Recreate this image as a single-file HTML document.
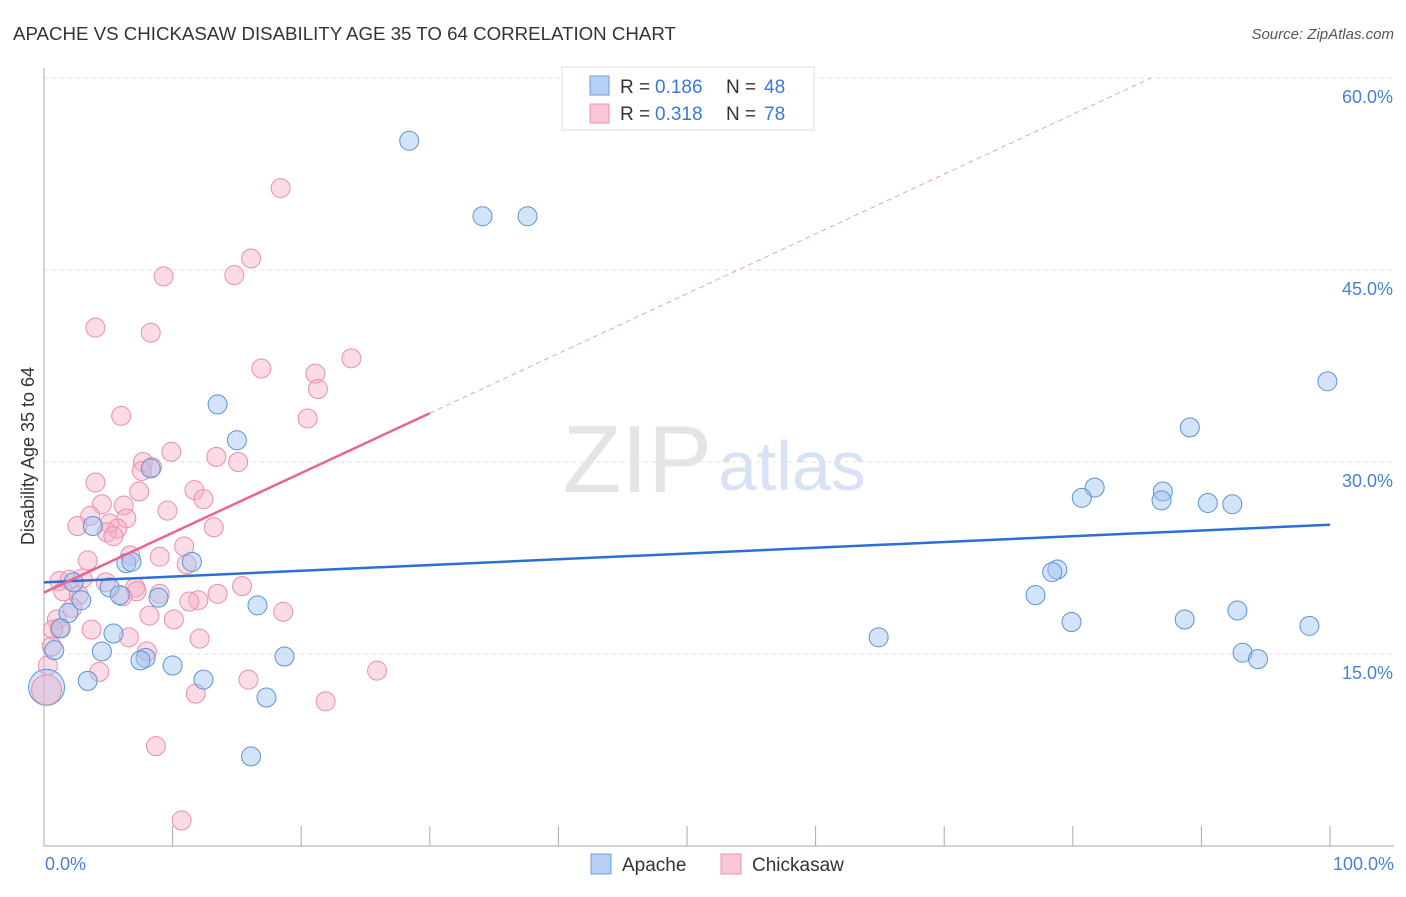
<!DOCTYPE html>
<html><head><meta charset="utf-8"><style>
body{margin:0;background:#fff;font-family:"Liberation Sans",sans-serif;}
svg text{font-family:"Liberation Sans",sans-serif;}
</style></head><body>
<svg width="1406" height="892" xmlns="http://www.w3.org/2000/svg">
<text x="13" y="40" font-size="18.7" fill="#333">APACHE VS CHICKASAW DISABILITY AGE 35 TO 64 CORRELATION CHART</text>
<text x="1394" y="39" font-size="15" fill="#555" font-style="italic" text-anchor="end">Source: ZipAtlas.com</text>
<g id="grid"></g>
<text x="712" y="492" font-size="96" fill="#e4e4e4" text-anchor="end" font-family="Liberation Serif">ZIP</text>
<text x="718" y="490" font-size="70" fill="#d7e3f4">atlas</text>
<line x1="44" y1="68" x2="44" y2="846" stroke="#aaa"/>
<line x1="44" y1="846" x2="1394" y2="846" stroke="#aaa"/>
<text transform="translate(34,456) rotate(-90)" font-size="18" fill="#333" text-anchor="middle">Disability Age 35 to 64</text>
<text x="45" y="870" font-size="18" fill="#4a7fd4">0.0%</text>
<text x="1394" y="870" font-size="18" fill="#4a7fd4" text-anchor="end">100.0%</text>
<g id="pts"></g>
<g id="trend"></g>
<g>
<rect x="562" y="67" width="252" height="63" fill="#fff" stroke="#ddd"/>
<rect x="590" y="76" width="19" height="19" fill="#b5d0f2" stroke="#6a9ee0"/>
<text x="620" y="93" font-size="19" fill="#333">R =</text>
<text x="655" y="93" font-size="19" fill="#3b78d8">0.186</text>
<text x="726" y="93" font-size="19" fill="#333">N =</text>
<text x="764" y="93" font-size="19" fill="#3b78d8">48</text>
<rect x="590" y="104" width="19" height="19" fill="#f8c6d5" stroke="#ea93ae"/>
<text x="620" y="120" font-size="19" fill="#333">R =</text>
<text x="655" y="120" font-size="19" fill="#3b78d8">0.318</text>
<text x="726" y="120" font-size="19" fill="#333">N =</text>
<text x="764" y="120" font-size="19" fill="#3b78d8">78</text>
</g>
<g>
<rect x="591" y="854" width="20" height="20" fill="#b5d0f2" stroke="#6a9ee0"/>
<text x="622" y="871" font-size="19" fill="#333">Apache</text>
<rect x="721" y="854" width="20" height="20" fill="#f8c6d5" stroke="#ea93ae"/>
<text x="752" y="871" font-size="19" fill="#333">Chickasaw</text>
</g>
</svg>
<script>
const yTicks=[15,30,45,60];
const yTickLabels=["15.0%","30.0%","45.0%","60.0%"];
const xTicks=[0,10,20,30,40,50,60,70,80,90,100];
const apacheX=[28.4,34.1,37.6,13.5,15.0,8.3,3.8,6.4,6.8,11.5,2.3,5.1,2.9,5.9,8.9,1.9,16.6,1.3,5.4,0.8,4.5,7.9,7.5,10.0,18.7,3.4,12.4,17.3,16.1,64.9,99.8,89.1,81.7,80.7,87.0,86.9,90.5,92.4,78.8,78.4,77.1,79.9,88.7,92.8,98.4,93.2,94.4];
const apacheY=[55.1,49.2,49.2,34.5,31.7,29.5,25.0,22.1,22.2,22.2,20.6,20.2,19.2,19.6,19.4,18.2,18.8,17.0,16.6,15.3,15.2,14.7,14.5,14.1,14.8,12.9,13.0,11.6,7.0,16.3,36.3,32.7,28.0,27.2,27.7,27.0,26.8,26.7,21.6,21.4,19.6,17.5,17.7,18.4,17.2,15.1,14.6];
const chickX=[18.4,16.1,14.8,9.3,4.0,8.3,23.9,16.9,21.1,21.3,6.0,20.5,9.9,13.4,15.1,7.7,8.4,7.6,4.0,11.7,7.4,12.4,4.5,6.2,3.6,6.4,9.6,2.6,5.1,5.7,4.9,5.4,13.2,10.9,3.4,6.7,9.0,11.1,15.4,1.2,2.0,3.0,4.8,7.1,7.2,1.5,2.7,6.1,9.0,13.5,12.0,11.3,2.2,8.2,10.1,18.6,1.0,1.2,0.7,3.7,6.6,12.1,8.0,0.6,0.3,4.3,25.9,15.9,11.8,21.9,8.7,10.7];
const chickY=[51.4,45.9,44.6,44.5,40.5,40.1,38.1,37.3,36.9,35.7,33.6,33.4,30.8,30.4,30.0,30.0,29.6,29.3,28.4,27.8,27.7,27.1,26.7,26.6,25.8,25.6,26.2,25.0,25.2,24.8,24.5,24.2,24.9,23.4,22.3,22.7,22.6,22.0,20.3,20.7,20.8,20.9,20.6,20.2,19.9,19.9,19.6,19.5,19.7,19.7,19.2,19.1,18.6,18.0,17.7,18.3,17.7,17.0,16.9,16.9,16.3,16.2,15.2,15.6,14.1,13.6,13.7,13.0,11.9,11.3,7.8,2.0];
const apacheTrend=[20.6,25.1];
const chickTrend=[19.8,0.467];
const X=v=>44+v*12.86, Y=v=>846-v*12.8;
const NS="http://www.w3.org/2000/svg";
function mk(t,a,p){const e=document.createElementNS(NS,t);for(const k in a)e.setAttribute(k,a[k]);p.appendChild(e);return e;}
const grid=document.getElementById('grid');
yTicks.forEach((t,i)=>{
 const l=mk('line',{x1:44,x2:1394,y1:Y(t),y2:Y(t),stroke:'#e2e2e2','stroke-dasharray':'4,4'},grid);
 
 
 const tx=mk('text',{x:1393,y:Y(t)+25,'font-size':18,fill:'#4a7fd4','text-anchor':'end'},grid);
 tx.textContent=yTickLabels[i];
 
 
});
xTicks.forEach(t=>{
 const l=mk('line',{x1:X(t),x2:X(t),y1:826,y2:846,stroke:'#aaa'},grid);
 
 
});
const pts=document.getElementById('pts');
chickX.forEach((x,i)=>{
 const c=mk('circle',{cx:X(x),cy:Y(chickY[i]),r:9.5,fill:'rgba(246,175,197,0.45)',stroke:'#eb8fab','stroke-width':1},pts);
 
 
});
apacheX.forEach((x,i)=>{
 const c=mk('circle',{cx:X(x),cy:Y(apacheY[i]),r:9.5,fill:'rgba(160,195,240,0.45)',stroke:'#5b93d8','stroke-width':1},pts);
 
 
});
const big1=mk('circle',{cx:X(0.2),cy:Y(12.4),r:18,fill:'rgba(160,195,240,0.45)',stroke:'#5b93d8'},pts);


const big2=mk('circle',{cx:X(0.2),cy:Y(12.2),r:15,fill:'rgba(246,175,197,0.45)',stroke:'#eb8fab'},pts);


const tr=document.getElementById('trend');
const a=mk('line',{x1:X(0),y1:Y(apacheTrend[0]),x2:X(100),y2:Y(apacheTrend[1]),stroke:'#2a6fd6','stroke-width':2.5},tr);


const cy=x=>chickTrend[0]+chickTrend[1]*x;
const b=mk('line',{x1:X(0),y1:Y(cy(0)),x2:X(30),y2:Y(cy(30)),stroke:'#e8658f','stroke-width':2.5},tr);


const xe=(60-chickTrend[0])/chickTrend[1];
const d=mk('line',{x1:X(30),y1:Y(cy(30)),x2:X(xe),y2:Y(60),stroke:'#eaa0b8','stroke-width':1,'stroke-dasharray':'5,4'},tr);


</script>
</body></html>
